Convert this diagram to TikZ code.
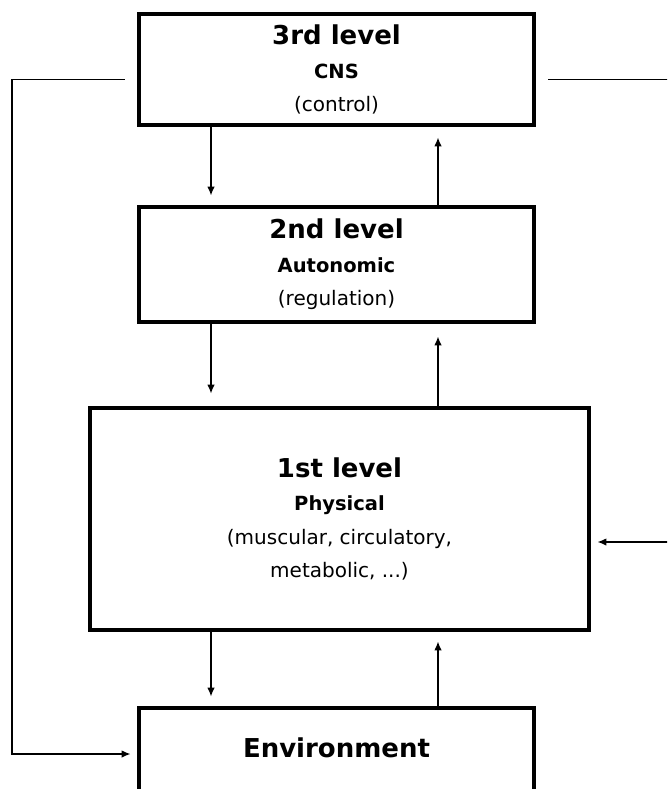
\documentclass[tikz,border=0pt]{standalone}
\usepackage{fontspec}
\setmainfont{DejaVu Sans}
\usetikzlibrary{arrows.meta,calc}
\newcommand\lvltitle{\fontsize{26}{33.5}\selectfont\bfseries}
\newcommand\lvlsub{\fontsize{19.5}{33.5}\selectfont\bfseries}
\begin{document}
\begin{tikzpicture}[x=1pt,y=1pt,
  box/.style={draw, line width=4.8pt, inner sep=0pt, align=center,
    font=\fontsize{20}{33.5}\selectfont},
  conn/.style={line width=1.5pt, -{Latex[length=9pt,width=7.5pt]}}]
\clip (0,0) rectangle (667,-789);
\fill[white] (0,0) rectangle (667,-789);
\node[box, minimum width=395, minimum height=111] (b3) at (336.5,-69.5)
  {\lvltitle 3rd level\\ \lvlsub CNS\\ (control)};
\node[box, minimum width=395, minimum height=115] (b2) at (336.5,-264.5)
  {\lvltitle 2nd level\\ \lvlsub Autonomic\\ (regulation)};
\node[box, minimum width=499, minimum height=222] (b1) at (339.5,-519)
  {\lvltitle 1st level\\ \lvlsub Physical\\ (muscular, circulatory,\\ metabolic, ...)};
\node[box, minimum width=395, minimum height=114] (env) at (336.5,-765) {};
\node[font=\lvltitle, inner sep=0pt] (envtext) at (336.5,-748) {Environment};
\coordinate (L) at (211,0);
\coordinate (R) at (438,0);
\coordinate (lx) at (12,0);
\coordinate (rx) at (690,0);
% vertical arrows
\draw[conn] (b3.south -| L) -- ($(b2.north -| L)+(0,9)$);
\draw[conn] (b2.north -| R) -- ($(b3.south -| R)+(0,-10)$);
\draw[conn] (b2.south -| L) -- ($(b1.north -| L)+(0,12)$);
\draw[conn] (b1.north -| R) -- ($(b2.south -| R)+(0,-12)$);
\draw[conn] (b1.south -| L) -- ($(env.north -| L)+(0,9)$);
\draw[conn] (env.north -| R) -- ($(b1.south -| R)+(0,-9)$);
% feedback loops
\coordinate (ls) at ($(b3.west)+(-12,-10)$);
\coordinate (le) at ($(env.west)+(-6,11)$);
\draw[conn] (ls) -- (ls -| lx) -- (le -| lx) -- (le);
\coordinate (rs) at ($(b3.east)+(12,-10)$);
\coordinate (re) at ($(b1.east)+(6,-23)$);
\draw[conn] (rs) -- (rs -| rx) -- (re -| rx) -- (re);
\end{tikzpicture}
\end{document}
